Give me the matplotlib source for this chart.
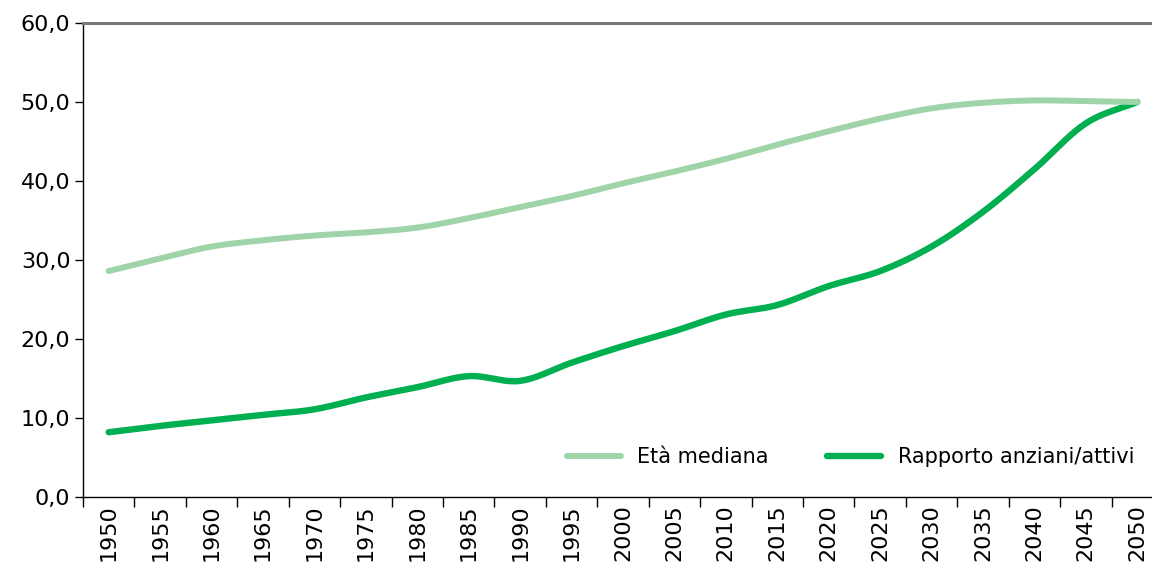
"""Età mediana e rapporto anziani/attivi, 1950-2050."""
import numpy as np
import matplotlib
matplotlib.use("Agg")
import matplotlib.pyplot as plt
from matplotlib.ticker import FuncFormatter, FixedLocator

years = [str(y) for y in range(1950, 2051, 5)]
eta_mediana = [28.6, 30.2, 31.7, 32.5, 33.1, 33.5, 34.1, 35.3, 36.7, 38.1, 39.7,
               41.2, 42.8, 44.6, 46.3, 47.9, 49.2, 49.9, 50.2, 50.1, 50.0]
rapporto = [8.2, 9.0, 9.7, 10.4, 11.1, 12.6, 13.9, 15.3, 14.7, 17.0, 19.1,
            21.0, 23.1, 24.3, 26.7, 28.6, 31.7, 36.1, 41.5, 47.3, 50.0]

C_LIGHT, C_DARK = "#9fd4a9", "#00b050"


def smooth(y, n=20):
    """Catmull-Rom style smoothing like Excel's smoothed line (draw only)."""
    y = np.asarray(y, float)
    x = np.arange(len(y), dtype=float)
    px, py = [], []
    for i in range(len(y) - 1):
        p0 = max(i - 1, 0); p3 = min(i + 2, len(y) - 1)
        m1 = (y[i + 1] - y[p0]) / (x[i + 1] - x[p0])
        m2 = (y[p3] - y[i]) / (x[p3] - x[i])
        t = np.linspace(0, 1, n, endpoint=False)
        h00 = 2*t**3 - 3*t**2 + 1; h10 = t**3 - 2*t**2 + t
        h01 = -2*t**3 + 3*t**2; h11 = t**3 - t**2
        px.extend(x[i] + t)
        py.extend(h00*y[i] + h10*m1 + h01*y[i+1] + h11*m2)
    px.append(x[-1]); py.append(y[-1])
    return np.array(px), np.array(py)


plt.rcParams["font.family"] = ["DejaVu Sans"]
fig = plt.figure(figsize=(11.52, 5.65), dpi=100)
ax = fig.add_axes([83/1152, 1 - 497/565, 1080/1152, 474/565])

xs, ys = smooth(rapporto)
ax.plot(xs, ys, color=C_DARK, lw=4.6, solid_capstyle="round", label="Rapporto anziani/attivi", zorder=3)
xs, ys = smooth(eta_mediana)
ax.plot(xs, ys, color=C_LIGHT, lw=4.3, solid_capstyle="round", label="Età mediana", zorder=4)

ax.set_xlim(-0.5, len(years) - 0.5)
ax.set_ylim(0, 60)
ax.set_yticks(np.arange(0, 61, 10))
ax.yaxis.set_major_formatter(FuncFormatter(lambda v, p: f"{v:.1f}".replace(".", ",")))
ax.tick_params(axis="y", direction="out", length=6, width=1, labelsize=16, pad=3)

ax.set_xticks(range(len(years)))
ax.set_xticklabels(years, rotation=90, fontsize=16)
ax.xaxis.set_minor_locator(FixedLocator(np.arange(-0.5, len(years), 1)))
ax.tick_params(axis="x", which="major", length=0, pad=5)
ax.tick_params(axis="x", which="minor", direction="out", length=7, width=1)

ax.spines["right"].set_visible(False)
ax.spines["top"].set_color("#777777"); ax.spines["top"].set_linewidth(2.2)
ax.spines["left"].set_linewidth(1.0)
ax.spines["bottom"].set_linewidth(1.0)

h, l = ax.get_legend_handles_labels()
ax.legend(h[::-1], l[::-1], ncol=2, frameon=False, fontsize=15, handlelength=2.6,
          columnspacing=2.8, loc="lower left", bbox_to_anchor=(0.44, 0.045),
          borderaxespad=0)

fig.savefig("out.png", dpi=100)
